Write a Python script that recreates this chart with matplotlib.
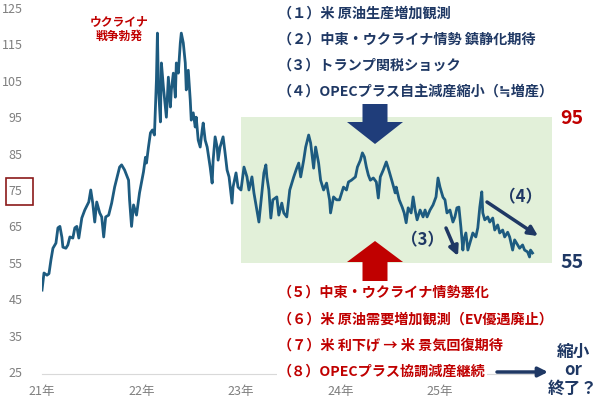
import matplotlib.pyplot as plt
import matplotlib.patches as mpatches

plt.rcParams['font.family'] = ['Noto Sans CJK JP', 'DejaVu Sans']

# WTI price (USD), time in years since Jan 2021
t = [0.00, 0.02, 0.05, 0.07, 0.09, 0.11, 0.14, 0.16, 0.18, 0.20, 0.21, 0.24, 0.26, 0.28,
     0.31, 0.33, 0.35, 0.37, 0.40, 0.43, 0.47, 0.49, 0.51, 0.53, 0.55, 0.58, 0.60, 0.62,
     0.64, 0.67, 0.70, 0.73, 0.78, 0.80, 0.83, 0.87, 0.88, 0.90, 0.92, 0.95, 0.98, 1.02,
     1.04, 1.05, 1.07, 1.09, 1.11, 1.13, 1.15, 1.16, 1.17, 1.19, 1.20, 1.22, 1.24, 1.25,
     1.27, 1.29, 1.30, 1.32, 1.34, 1.35, 1.37, 1.39, 1.40, 1.42, 1.44, 1.45, 1.47, 1.49,
     1.50, 1.52, 1.54, 1.55, 1.57, 1.59, 1.61, 1.62, 1.64, 1.66, 1.69, 1.71, 1.72, 1.74,
     1.76, 1.77, 1.79, 1.82, 1.84, 1.86, 1.88, 1.91, 1.92, 1.95, 1.97, 2.00, 2.03, 2.06,
     2.08, 2.11, 2.13, 2.16, 2.18, 2.21, 2.23, 2.25, 2.26, 2.28, 2.30, 2.32, 2.36, 2.38,
     2.41, 2.43, 2.46, 2.49, 2.53, 2.56, 2.58, 2.60, 2.63, 2.65, 2.68, 2.70, 2.73, 2.75,
     2.78, 2.80, 2.83, 2.86, 2.89, 2.90, 2.93, 2.96, 2.99, 3.03, 3.06, 3.08, 3.11, 3.15,
     3.17, 3.20, 3.22, 3.24, 3.26, 3.28, 3.30, 3.33, 3.36, 3.38, 3.40, 3.43, 3.46, 3.48,
     3.50, 3.52, 3.55, 3.56, 3.59, 3.62, 3.64, 3.66, 3.68, 3.71, 3.73, 3.75, 3.77, 3.80,
     3.83, 3.85, 3.87, 3.90, 3.93, 3.96, 3.98, 4.00, 4.03, 4.05, 4.07, 4.10, 4.13, 4.15,
     4.17, 4.19, 4.21, 4.23, 4.24, 4.26, 4.28, 4.31, 4.33, 4.36, 4.38, 4.40, 4.42, 4.43,
     4.45, 4.48, 4.50, 4.53, 4.55, 4.58, 4.60, 4.63, 4.65, 4.68, 4.70, 4.73, 4.75, 4.78,
     4.80, 4.83, 4.85, 4.88, 4.90, 4.91, 4.93]
price = [47.5, 52.2, 51.6, 52.0, 55.8, 59.0, 60.4, 64.6, 65.0, 62.0, 59.3, 59.0, 59.9, 62.1,
         61.8, 64.6, 65.0, 61.8, 67.3, 69.5, 71.7, 75.0, 71.4, 66.2, 71.7, 68.7, 67.6, 62.1,
         67.6, 68.1, 71.4, 75.8, 81.3, 81.9, 80.5, 77.7, 72.3, 65.0, 70.9, 68.1, 74.2, 80.0,
         84.0, 82.4, 86.8, 90.7, 91.5, 90.1, 105.2, 118.1, 103.3, 93.7, 109.9, 103.3, 97.8, 95.0,
         106.0, 97.8, 102.5, 107.1, 100.5, 109.9, 107.1, 115.4, 118.1, 115.4, 109.9, 102.5, 107.9, 99.7,
         94.2, 96.2, 92.3, 95.0, 88.7, 86.8, 91.5, 93.4, 88.7, 86.8, 81.3, 76.9, 83.2, 89.6,
         86.8, 83.2, 86.8, 89.6, 85.2, 80.5, 78.6, 71.4, 75.8, 79.7, 75.8, 75.0, 81.3, 78.6,
         75.0, 78.6, 74.2, 69.5, 66.2, 74.2, 79.7, 81.9, 78.6, 75.0, 67.3, 72.3, 73.1, 68.1,
         71.4, 68.7, 67.6, 75.0, 78.6, 81.0, 82.4, 78.6, 83.2, 86.8, 90.1, 87.9, 81.0, 86.8,
         82.4, 77.7, 75.0, 76.9, 72.3, 68.7, 73.1, 72.3, 72.3, 75.8, 75.0, 77.2, 77.7, 78.6,
         81.3, 83.2, 85.2, 84.1, 81.3, 79.1, 77.7, 78.3, 77.2, 72.8, 78.6, 80.5, 82.7, 81.0,
         79.1, 77.2, 74.2, 75.8, 72.3, 70.3, 68.7, 66.0, 70.1, 68.7, 73.1, 69.5, 66.8, 69.5,
         67.6, 69.5, 67.6, 69.5, 70.9, 73.1, 78.3, 75.8, 73.0, 72.3, 68.7, 69.5, 66.2, 67.6,
         70.1, 70.3, 64.8, 58.5, 61.3, 63.2, 58.5, 61.3, 63.2, 62.1, 64.6, 70.3, 74.5, 68.7,
         66.8, 67.6, 66.2, 67.3, 64.0, 65.4, 63.2, 64.0, 62.1, 63.4, 62.1, 58.5, 61.3, 59.9,
         59.0, 59.9, 58.5, 58.0, 56.6, 58.5, 57.7]

year_ticks = [2021, 2022, 2023, 2024, 2025]
year_labels = ['21年', '22年', '23年', '24年', '25年']
y_ticks = [25, 35, 45, 55, 65, 75, 85, 95, 105, 115, 125]

down_factors = ['（１）米 原油生産増加観測',
                '（２）中東・ウクライナ情勢 鎮静化期待',
                '（３）トランプ関税ショック',
                '（４）OPECプラス自主減産縮小（≒増産）']
up_factors = ['（５）中東・ウクライナ情勢悪化',
              '（６）米 原油需要増加観測（EV優遇廃止）',
              '（７）米 利下げ → 米 景気回復期待',
              '（８）OPECプラス協調減産継続']
range_low, range_high = 55, 95

NAVY = '#1f3864'
RED = '#c00000'
LINE = '#1d5b80'
W, H = 600, 399


def px(x, y):
    return x / W, 1 - y / H


fig = plt.figure(figsize=(6, 3.99), dpi=100)
ax = fig.add_axes([42 / W, 27 / H, 497.5 / W, 364 / H])

x = [2021 + v for v in t]
ax.plot(x, price, color=LINE, lw=2.0, zorder=3, solid_joinstyle='round')

ax.add_patch(mpatches.Rectangle((2023.0, range_low), 3.13, range_high - range_low,
                                facecolor='#e2f0d9', edgecolor='none', zorder=0,
                                clip_on=False))

ax.set_xlim(2021, 2026)
ax.set_ylim(25, 125)
ax.set_xticks(year_ticks)
ax.set_xticklabels(year_labels)
ax.set_yticks(y_ticks)
ax.tick_params(axis='both', length=0, colors='#7f7f7f', labelsize=9)
ax.tick_params(axis='y', pad=14)
ax.tick_params(axis='x', pad=8)
for s in ['top', 'right', 'left']:
    ax.spines[s].set_visible(False)
ax.spines['bottom'].set_color('#d9d9d9')
ax.spines['bottom'].set_position(('data', 24.5))

# box around 75
fig.patches.append(mpatches.Rectangle(px(6, 205), 27 / W, 27 / H, transform=fig.transFigure,
                                      fill=False, edgecolor='#8b1a1a', lw=1.2))

fig.text(*px(119, 22), 'ウクライナ', color=RED, fontsize=8.5, fontweight='bold',
         ha='center', va='center')
fig.text(*px(119, 36), '戦争勃発', color=RED, fontsize=8.5, fontweight='bold',
         ha='center', va='center')

for i, s in enumerate(down_factors):
    fig.text(*px(278, 14 + i * 25.7), s, color=NAVY, fontsize=10.2, fontweight='bold',
             va='center', ha='left')
for i, s in enumerate(up_factors):
    kw = {}
    if i == 3:
        kw['bbox'] = dict(facecolor='white', edgecolor='none', pad=1)
    fig.text(*px(278, 293 + i * 26.3), s, color=RED, fontsize=10.2, fontweight='bold',
             va='center', ha='left', **kw)

fig.text(*px(572, 119), str(range_high), color=RED, fontsize=14, fontweight='bold',
         ha='center', va='center')
fig.text(*px(572, 263), str(range_low), color=NAVY, fontsize=14, fontweight='bold',
         ha='center', va='center')

# big block arrows
def block_arrow(cx, y0, y1, head_y, color):
    sw, hw = 12.5, 28
    pts = [(cx - sw, y0), (cx + sw, y0), (cx + sw, head_y), (cx + hw, head_y),
           (cx, y1), (cx - hw, head_y), (cx - sw, head_y)]
    fig.patches.append(mpatches.Polygon([px(a, b) for a, b in pts], closed=True,
                                        transform=fig.transFigure, facecolor=color,
                                        edgecolor='none', zorder=5))


block_arrow(375, 104, 144, 122, '#1f3d7a')
block_arrow(375, 281, 241, 262, RED)

fig.text(*px(423, 240), '（3）', color=NAVY, fontsize=12, fontweight='bold',
         ha='center', va='center')
fig.text(*px(521, 197), '（4）', color=NAVY, fontsize=12, fontweight='bold',
         ha='center', va='center')


def thin_arrow(x0, y0, x1, y1):
    ax.annotate('', xy=(x1, H - y1), xytext=(x0, H - y0), xycoords='figure pixels',
                textcoords='figure pixels',
                arrowprops=dict(arrowstyle='-|>', color=NAVY, lw=2.5, mutation_scale=14,
                                shrinkA=0, shrinkB=0), annotation_clip=False)


thin_arrow(446, 228, 458, 256)
thin_arrow(487, 202, 538, 236)
thin_arrow(497, 372, 548, 372)

fig.text(*px(573, 352), '縮小', color=NAVY, fontsize=12, fontweight='bold',
         ha='center', va='center')
fig.text(*px(573, 370), 'or', color=NAVY, fontsize=12, fontweight='bold',
         ha='center', va='center')
fig.text(*px(573, 389), '終了？', color=NAVY, fontsize=12, fontweight='bold',
         ha='center', va='center')

fig.savefig('out.png', dpi=100)
